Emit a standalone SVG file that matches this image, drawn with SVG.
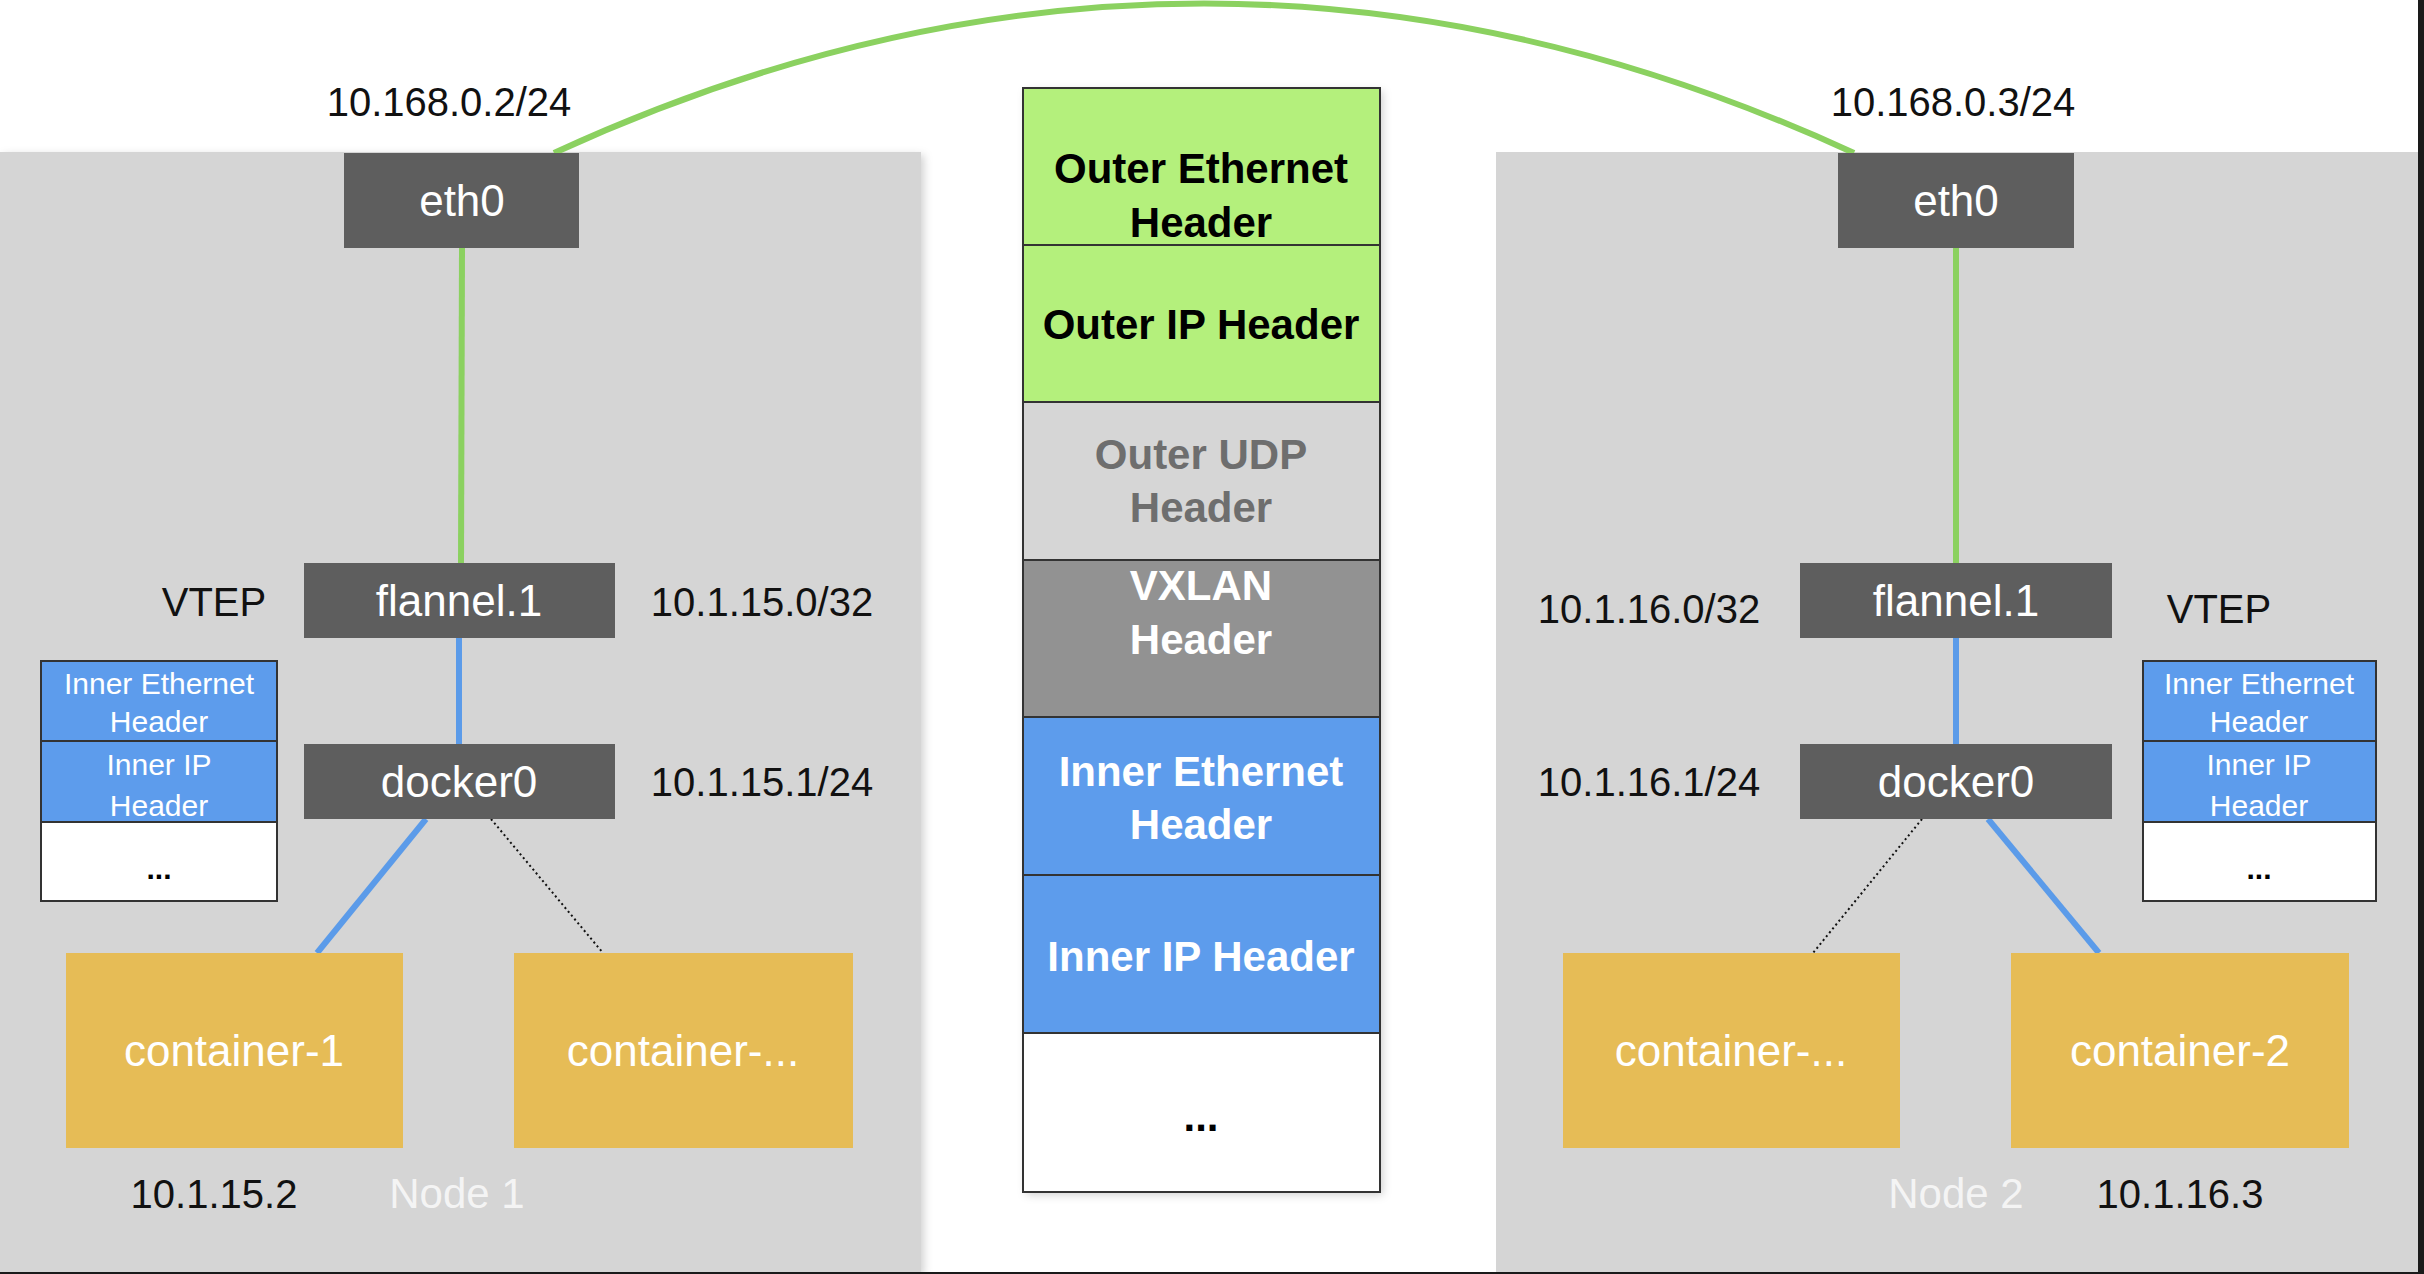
<svg xmlns="http://www.w3.org/2000/svg" width="2424" height="1274" viewBox="0 0 2424 1274">
  <defs>
    <filter id="soft" x="-5%" y="-5%" width="110%" height="110%">
      <feDropShadow dx="3" dy="3" stdDeviation="4" flood-color="#000" flood-opacity="0.18"/>
    </filter>
    <style>
      .panel { fill: #D5D5D5; }
      .dev { fill: #5E5E5E; }
      .dev-t { font-family: "Liberation Sans", Arial, sans-serif; font-size: 44px; fill: #FFFFFF; text-anchor: middle; }
      .ctr { fill: #E6BC56; }
      .lbl { font-family: "Liberation Sans", Arial, sans-serif; font-size: 40px; fill: #111111; text-anchor: middle; }
      .node-name { font-family: "Liberation Sans", Arial, sans-serif; font-size: 42px; fill: #F4F4F4; text-anchor: middle; }
      .row { stroke: #333333; stroke-width: 2; }
      .hdr { font-family: "Liberation Sans", Arial, sans-serif; font-size: 42px; font-weight: bold; text-anchor: middle; }
      .mini { font-family: "Liberation Sans", Arial, sans-serif; font-size: 30px; fill: #FFFFFF; text-anchor: middle; }
      .green { fill: #B4F07C; }
      .blue { fill: #5D9CEC; }
      .wire-g { stroke: #8BD160; stroke-width: 6; fill: none; }
      .wire-b { stroke: #5B9BE9; stroke-width: 6; fill: none; }
      .wire-d { stroke: #111111; stroke-width: 2; stroke-dasharray: 2 3; fill: none; }
    </style>
  </defs>

  <rect x="0" y="0" width="2424" height="1274" fill="#FFFFFF"/>

  <!-- host panels -->
  <g id="node1">
    <rect class="panel" x="0" y="152" width="921" height="1121" filter="url(#soft)"/>
    <text class="node-name" x="457" y="1208">Node 1</text>
  </g>
  <g id="node2">
    <rect class="panel" x="1496" y="152" width="922" height="1121"/>
    <text class="node-name" x="1956" y="1208">Node 2</text>
  </g>

  <!-- links -->
  <g id="connectors">
    <path class="wire-g" d="M554,153 Q1204,-146 1854,153"/>
    <line class="wire-g" x1="462" y1="248" x2="461" y2="563"/>
    <line class="wire-g" x1="1956" y1="248" x2="1956" y2="563"/>
    <line class="wire-b" x1="459" y1="638" x2="459" y2="744"/>
    <line class="wire-b" x1="1956" y1="638" x2="1956" y2="744"/>
    <line class="wire-b" x1="426" y1="819" x2="317" y2="953"/>
    <line class="wire-d" x1="491" y1="819" x2="603" y2="953"/>
    <line class="wire-b" x1="1988" y1="819" x2="2099" y2="953"/>
    <line class="wire-d" x1="1922" y1="819" x2="1813" y2="953"/>
  </g>

  <!-- node 1 devices -->
  <g id="eth0-1">
    <rect class="dev" x="344" y="153" width="235" height="95"/>
    <text class="dev-t" x="462" y="216">eth0</text>
  </g>
  <g id="flannel-1">
    <rect class="dev" x="304" y="563" width="311" height="75"/>
    <text class="dev-t" x="459" y="616">flannel.1</text>
  </g>
  <g id="docker0-1">
    <rect class="dev" x="304" y="744" width="311" height="75"/>
    <text class="dev-t" x="459" y="797">docker0</text>
  </g>
  <g id="container-1">
    <rect class="ctr" x="66" y="953" width="337" height="195"/>
    <text class="dev-t" x="234" y="1066">container-1</text>
  </g>
  <g id="container-n1">
    <rect class="ctr" x="514" y="953" width="339" height="195"/>
    <text class="dev-t" x="683" y="1066">container-...</text>
  </g>

  <!-- node 2 devices -->
  <g id="eth0-2">
    <rect class="dev" x="1838" y="153" width="236" height="95"/>
    <text class="dev-t" x="1956" y="216">eth0</text>
  </g>
  <g id="flannel-2">
    <rect class="dev" x="1800" y="563" width="312" height="75"/>
    <text class="dev-t" x="1956" y="616">flannel.1</text>
  </g>
  <g id="docker0-2">
    <rect class="dev" x="1800" y="744" width="312" height="75"/>
    <text class="dev-t" x="1956" y="797">docker0</text>
  </g>
  <g id="container-n2">
    <rect class="ctr" x="1563" y="953" width="337" height="195"/>
    <text class="dev-t" x="1731" y="1066">container-...</text>
  </g>
  <g id="container-2">
    <rect class="ctr" x="2011" y="953" width="338" height="195"/>
    <text class="dev-t" x="2180" y="1066">container-2</text>
  </g>

  <!-- address labels -->
  <g id="labels">
    <text class="lbl" x="449" y="116">10.168.0.2/24</text>
    <text class="lbl" x="1953" y="116">10.168.0.3/24</text>
    <text class="lbl" x="214" y="616">VTEP</text>
    <text class="lbl" x="762" y="616">10.1.15.0/32</text>
    <text class="lbl" x="762" y="796">10.1.15.1/24</text>
    <text class="lbl" x="214" y="1208">10.1.15.2</text>
    <text class="lbl" x="1649" y="623">10.1.16.0/32</text>
    <text class="lbl" x="2219" y="623">VTEP</text>
    <text class="lbl" x="1649" y="796">10.1.16.1/24</text>
    <text class="lbl" x="2180" y="1208">10.1.16.3</text>
  </g>

  <!-- inner packet, node 1 -->
  <g id="inner-packet-1">
    <rect class="blue row" x="41" y="661" width="236" height="80"/>
    <rect class="blue row" x="41" y="741" width="236" height="81"/>
    <rect class="row" fill="#FFFFFF" x="41" y="822" width="236" height="79"/>
    <text class="mini" x="159" y="694">Inner Ethernet</text>
    <text class="mini" x="159" y="732">Header</text>
    <text class="mini" x="159" y="775">Inner IP</text>
    <text class="mini" x="159" y="816">Header</text>
    <text class="mini" x="159" y="879" fill="#000" style="fill:#000;font-weight:bold">...</text>
  </g>

  <!-- inner packet, node 2 -->
  <g id="inner-packet-2">
    <rect class="blue row" x="2143" y="661" width="233" height="80"/>
    <rect class="blue row" x="2143" y="741" width="233" height="81"/>
    <rect class="row" fill="#FFFFFF" x="2143" y="822" width="233" height="79"/>
    <text class="mini" x="2259" y="694">Inner Ethernet</text>
    <text class="mini" x="2259" y="732">Header</text>
    <text class="mini" x="2259" y="775">Inner IP</text>
    <text class="mini" x="2259" y="816">Header</text>
    <text class="mini" x="2259" y="879" style="fill:#000;font-weight:bold">...</text>
  </g>

  <!-- VXLAN frame layout -->
  <g id="vxlan-frame">
    <rect x="1023" y="88" width="357" height="1104" fill="#FFFFFF" filter="url(#soft)"/>
    <rect class="green row" x="1023" y="88" width="357" height="157"/>
    <rect class="green row" x="1023" y="245" width="357" height="157"/>
    <rect class="row" fill="#D6D6D6" x="1023" y="402" width="357" height="158"/>
    <rect class="row" fill="#929292" x="1023" y="560" width="357" height="157"/>
    <rect class="blue row" x="1023" y="717" width="357" height="158"/>
    <rect class="blue row" x="1023" y="875" width="357" height="158"/>
    <rect class="row" fill="#FFFFFF" x="1023" y="1033" width="357" height="159"/>
    <text class="hdr" x="1201" y="183" fill="#000">Outer Ethernet</text>
    <text class="hdr" x="1201" y="237" fill="#000">Header</text>
    <text class="hdr" x="1201" y="339" fill="#000">Outer IP Header</text>
    <text class="hdr" x="1201" y="469" fill="#6E6E6E">Outer UDP</text>
    <text class="hdr" x="1201" y="522" fill="#6E6E6E">Header</text>
    <text class="hdr" x="1201" y="600" fill="#FFFFFF">VXLAN</text>
    <text class="hdr" x="1201" y="654" fill="#FFFFFF">Header</text>
    <text class="hdr" x="1201" y="786" fill="#FFFFFF">Inner Ethernet</text>
    <text class="hdr" x="1201" y="839" fill="#FFFFFF">Header</text>
    <text class="hdr" x="1201" y="971" fill="#FFFFFF">Inner IP Header</text>
    <text class="hdr" x="1201" y="1131" fill="#000">...</text>
  </g>

  <!-- frame edges -->
  <rect x="2418" y="0" width="6" height="1274" fill="#1A1A1A"/>
  <rect x="0" y="1272" width="2424" height="2" fill="#1A1A1A"/>
</svg>
